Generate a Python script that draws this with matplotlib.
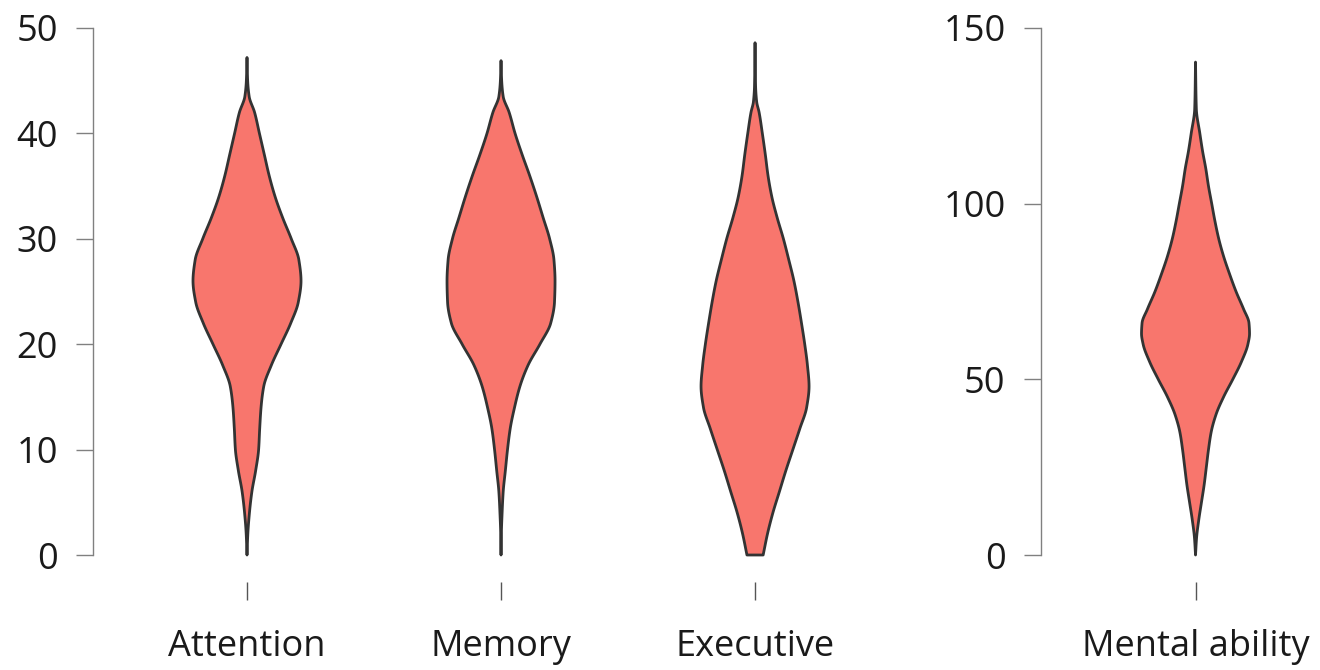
import numpy as np
import matplotlib
matplotlib.use("Agg")
import matplotlib.pyplot as plt

# Violin outlines: score levels and relative half-width (1 = widest point)
categories_left = ["Attention", "Memory", "Executive"]
category_right = "Mental ability"

attention_levels = [0, 2, 4, 6, 8, 10, 12, 14, 16, 18, 20, 22, 24, 26, 28,
                    30, 32, 34, 36, 38, 40, 42, 43.5, 45, 47.2]
attention_width = [0, 0.015, 0.045, 0.09, 0.16, 0.215, 0.235, 0.26, 0.31,
                   0.45, 0.63, 0.81, 0.95, 1.0, 0.96, 0.82, 0.66, 0.52, 0.41,
                   0.32, 0.23, 0.14, 0.04, 0.012, 0]

memory_levels = [0, 2, 4, 6, 8, 10, 12, 14, 16, 18, 20, 22, 24, 26, 28,
                 30, 32, 34, 36, 38, 40, 42, 43.5, 45, 46.9]
memory_width = [0, 0.006, 0.02, 0.04, 0.08, 0.12, 0.17, 0.25, 0.35, 0.50,
                0.72, 0.92, 0.99, 1.0, 0.98, 0.90, 0.78, 0.66, 0.53, 0.39,
                0.26, 0.15, 0.04, 0.012, 0]

executive_levels = [0, 2, 4, 6, 8, 10, 12, 14, 16, 18, 20, 22, 24, 26, 28,
                    30, 32, 34, 36, 38, 40, 42, 43, 44.5, 48.6]
executive_width = [0.15, 0.23, 0.33, 0.45, 0.57, 0.70, 0.83, 0.955, 1.0, 0.97,
                   0.92, 0.86, 0.795, 0.72, 0.625, 0.525, 0.41, 0.31, 0.24,
                   0.19, 0.135, 0.075, 0.03, 0.01, 0]

mental_levels = [0, 5, 10, 15, 20, 25, 30, 35, 40, 45, 50, 55, 60, 63, 66,
                 70, 75, 80, 85, 90, 95, 100, 105, 110, 115, 120, 127, 140.3]
mental_width = [0, 0.02, 0.06, 0.11, 0.16, 0.20, 0.24, 0.29, 0.38, 0.52,
                0.69, 0.85, 0.97, 1.0, 0.99, 0.89, 0.75, 0.63, 0.52, 0.43,
                0.36, 0.30, 0.24, 0.19, 0.13, 0.08, 0.015, 0]

left_ticks = [0, 10, 20, 30, 40, 50]
right_ticks = [0, 50, 100, 150]

FILL = "#F8766D"
EDGE = "#333333"
AXIS_GREY = "#808080"
HALF_WIDTH = 0.2126

plt.rcParams["font.family"] = ["Open Sans", "DejaVu Sans"]


def pchip_slopes(y, w):
    d = np.diff(w) / np.diff(y)
    h = np.diff(y)
    m = np.zeros_like(w)
    m[0], m[-1] = d[0], d[-1]
    for k in range(1, len(w) - 1):
        if d[k - 1] * d[k] <= 0:
            m[k] = 0.0
        else:
            w1 = 2 * h[k] + h[k - 1]
            w2 = h[k] + 2 * h[k - 1]
            m[k] = (w1 + w2) / (w1 / d[k - 1] + w2 / d[k])
    return m


def smooth_profile(levels, widths, n=800):
    """Shape-preserving cubic curve through the outline samples."""
    y = np.asarray(levels, float)
    w = np.asarray(widths, float)
    m = pchip_slopes(y, w)
    yy = np.linspace(y[0], y[-1], n)
    i = np.clip(np.searchsorted(y, yy) - 1, 0, len(y) - 2)
    h = y[i + 1] - y[i]
    t = (yy - y[i]) / h
    h00 = 2 * t**3 - 3 * t**2 + 1
    h10 = t**3 - 2 * t**2 + t
    h01 = -2 * t**3 + 3 * t**2
    h11 = t**3 - t**2
    ww = h00 * w[i] + h10 * h * m[i] + h01 * w[i + 1] + h11 * h * m[i + 1]
    return yy, np.clip(ww, 0, None)


def draw_violin(ax, center, levels, widths):
    yy, ww = smooth_profile(levels, widths)
    half = ww * HALF_WIDTH
    xs = np.concatenate([center + half, (center - half)[::-1]])
    ys = np.concatenate([yy, yy[::-1]])
    ax.fill(xs, ys, facecolor=FILL, edgecolor=EDGE, linewidth=2.0,
            joinstyle="round", zorder=3, clip_on=False)


def style_axis(ax, ticks, labels, positions):
    for side in ("top", "right", "bottom"):
        ax.spines[side].set_visible(False)
    ax.spines["bottom"].set_position(("outward", 19.4))
    ax.spines["left"].set_bounds(ticks[0], ticks[-1])
    ax.spines["left"].set_color(AXIS_GREY)
    ax.spines["left"].set_linewidth(1.0)
    ax.set_yticks(ticks)
    ax.set_ylim(ticks[0], ticks[-1])
    ax.tick_params(axis="y", direction="out", length=12.2, width=1.0,
                   color=AXIS_GREY, pad=13, labelsize=26, labelcolor="#1a1a1a")
    ax.set_xticks(positions)
    ax.set_xticklabels(labels)
    ax.tick_params(axis="x", direction="out", length=13, width=1.0,
                   color="#555555", pad=21, labelsize=26, labelcolor="#1a1a1a")
    ax.patch.set_alpha(0)


fig = plt.figure(figsize=(13.2, 6.7), dpi=100)
ax_left = fig.add_axes([0.07045, 0.17164, 0.6074, 0.78657])
ax_right = fig.add_axes([0.78826, 0.17164, 0.21174, 0.78657])

positions = [1, 2, 3]
draw_violin(ax_left, positions[0], attention_levels, attention_width)
draw_violin(ax_left, positions[1], memory_levels, memory_width)
draw_violin(ax_left, positions[2], executive_levels, executive_width)
draw_violin(ax_right, 1, mental_levels, mental_width)

style_axis(ax_left, left_ticks, categories_left, positions)
style_axis(ax_right, right_ticks, [category_right], [1])
ax_left.set_xlim(0.3937, 3.55)
ax_right.set_xlim(0.3898, 1.490)

fig.savefig("out.png", dpi=100, facecolor="white")
